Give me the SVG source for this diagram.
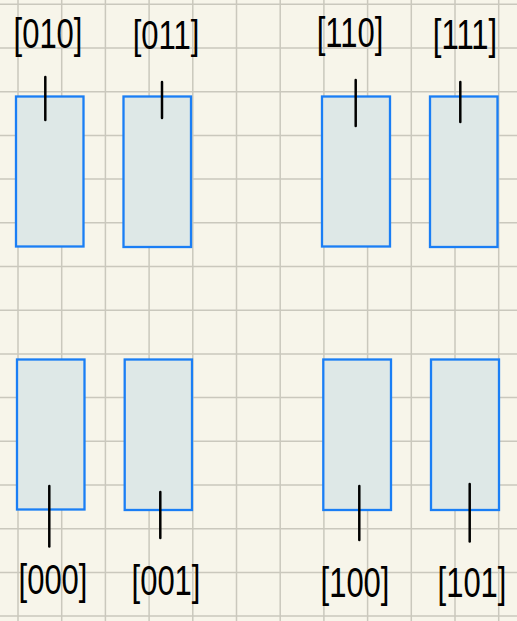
<svg xmlns="http://www.w3.org/2000/svg" width="517" height="621" viewBox="0 0 517 621">
<style>
.grid{stroke:#cac8bd;stroke-width:1.5;fill:none}
.box{fill:#dee8e7;stroke:#1a7ef5;stroke-width:2.3}
.lbl{font-family:"Liberation Sans",Arial,sans-serif;font-size:31px;fill:#000;text-anchor:middle}
.tick{stroke:#000;stroke-width:2.5;stroke-linecap:round}
</style>
<rect width="517" height="621" fill="#f7f5ea"/>
<path class="grid" d="M18 0V621M61.7 0V621M105.4 0V621M149.1 0V621M192.8 0V621M236.5 0V621M280.2 0V621M323.9 0V621M367.6 0V621M411.3 0V621M455 0V621M498.7 0V621M0 4.3H517M0 48H517M0 91.7H517M0 135.4H517M0 179.1H517M0 222.8H517M0 266.5H517M0 310.2H517M0 353.9H517M0 397.6H517M0 441.3H517M0 485H517M0 528.7H517M0 572.4H517M0 616.1H517"/>
<g id="n010"><rect class="box" x="16" y="96.5" width="67.5" height="150"/><text class="lbl" transform="translate(48,48) scale(1,1.4)">[010]</text></g>
<g id="n011"><rect class="box" x="123.5" y="96.5" width="67.5" height="150.5"/><text class="lbl" transform="translate(166,49) scale(1,1.3)">[011]</text></g>
<g id="n110"><rect class="box" x="322" y="96.5" width="68" height="150"/><text class="lbl" transform="translate(350,47) scale(1,1.35)">[110]</text></g>
<g id="n111"><rect class="box" x="430" y="96.5" width="67.5" height="150.5"/><text class="lbl" transform="translate(465,49) scale(1,1.4)">[111]</text></g>
<g id="n000"><rect class="box" x="17" y="359.5" width="67.5" height="150"/><text class="lbl" transform="translate(53,594) scale(1,1.4)">[000]</text></g>
<g id="n001"><rect class="box" x="124.7" y="359.5" width="67.3" height="150.5"/><text class="lbl" transform="translate(166,595) scale(1,1.35)">[001]</text></g>
<g id="n100"><rect class="box" x="323.3" y="359.5" width="67.7" height="150.5"/><text class="lbl" transform="translate(355,597) scale(1,1.4)">[100]</text></g>
<g id="n101"><rect class="box" x="431" y="359.5" width="68" height="150.5"/><text class="lbl" transform="translate(472,597) scale(1,1.35)">[101]</text></g>
<g id="connectors">
<line class="tick" x1="45.3" y1="77" x2="45.3" y2="120"/>
<line class="tick" x1="162" y1="82" x2="162" y2="118"/>
<line class="tick" x1="355.7" y1="80" x2="355.7" y2="126"/>
<line class="tick" x1="460.3" y1="82" x2="460.3" y2="122"/>
<line class="tick" x1="49.3" y1="486" x2="49.3" y2="546.5"/>
<line class="tick" x1="160.3" y1="492" x2="160.3" y2="538"/>
<line class="tick" x1="359.3" y1="486" x2="359.3" y2="540"/>
<line class="tick" x1="469.7" y1="484" x2="469.7" y2="541.5"/>
</g>
</svg>
